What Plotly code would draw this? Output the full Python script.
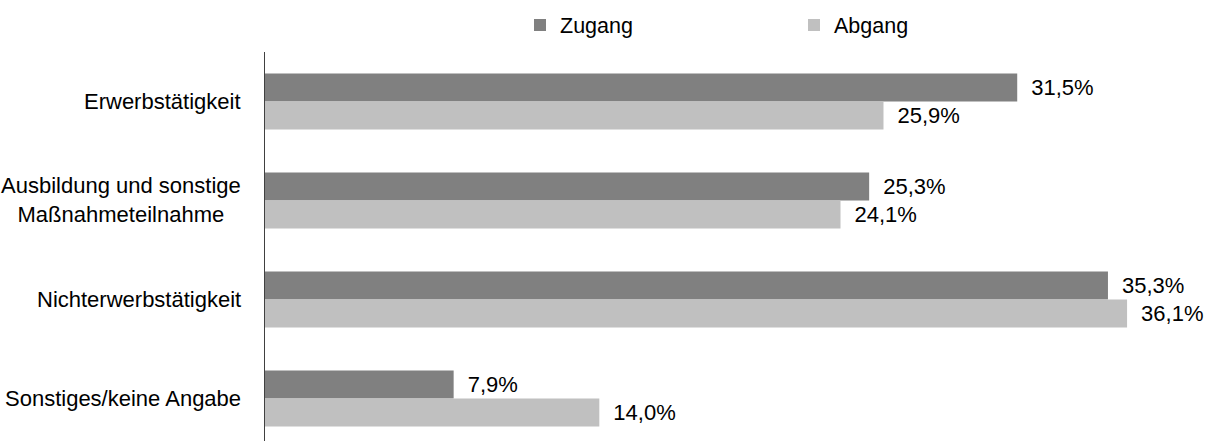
import plotly.graph_objects as go

categories = ["Erwerbstätigkeit", "Ausbildung und sonstige<br>Maßnahmeteilnahme",
              "Nichterwerbstätigkeit", "Sonstiges/keine Angabe"]
zugang = [31.5, 25.3, 35.3, 7.9]
abgang = [25.9, 24.1, 36.1, 14.0]

W, H = 1209, 441
FONT = "Liberation Sans, Arial, sans-serif"
FS = 22

fig = go.Figure()
fig.add_trace(go.Bar(
    y=categories, x=zugang, orientation="h", name="Zugang",
    marker=dict(color="#808080", line=dict(width=0)),
    texttemplate="\u2002%{x:.1f}%", textposition="outside",
    constraintext="none", cliponaxis=False,
    textfont=dict(family=FONT, size=FS, color="#000000"),
    legend="legend",
))
fig.add_trace(go.Bar(
    y=categories, x=abgang, orientation="h", name="Abgang",
    marker=dict(color="#C0C0C0", line=dict(width=0)),
    texttemplate="\u2002%{x:.1f}%", textposition="outside",
    constraintext="none", cliponaxis=False,
    textfont=dict(family=FONT, size=FS, color="#000000"),
    legend="legend2",
))

for c in categories:
    fig.add_annotation(
        x=0, xref="paper", xanchor="right", xshift=-22,
        y=c, yref="y", yanchor="middle",
        text=c, showarrow=False, align="center",
        font=dict(family=FONT, size=FS, color="#000000"),
    )

LFS = 21.5
fig.update_layout(
    width=W, height=H,
    margin=dict(l=265, r=20, t=52, b=0, pad=0),
    paper_bgcolor="white", plot_bgcolor="white",
    separators=",.",
    barmode="group", bargap=0.434, bargroupgap=0,
    font=dict(family=FONT, size=FS, color="#000000"),
    xaxis=dict(range=[0, 924 / 23.88], visible=False, showgrid=False, zeroline=False),
    yaxis=dict(type="category", range=[3.43, -0.5], showticklabels=False,
               showgrid=False, zeroline=False, ticks="",
               showline=True, linecolor="#404040", linewidth=1),
    showlegend=True,
    legend=dict(xref="container", yref="container", x=520 / W, y=1 - 25 / H,
                xanchor="left", yanchor="middle", orientation="h",
                bgcolor="rgba(0,0,0,0)", font=dict(family=FONT, size=LFS, color="#000000")),
    legend2=dict(xref="container", yref="container", x=794 / W, y=1 - 25 / H,
                 xanchor="left", yanchor="middle", orientation="h",
                 bgcolor="rgba(0,0,0,0)", font=dict(family=FONT, size=LFS, color="#000000")),
)

fig.write_html("out.html", config={"displayModeBar": False},
               post_script="document.body.style.margin='0';document.body.style.overflow='hidden';")
